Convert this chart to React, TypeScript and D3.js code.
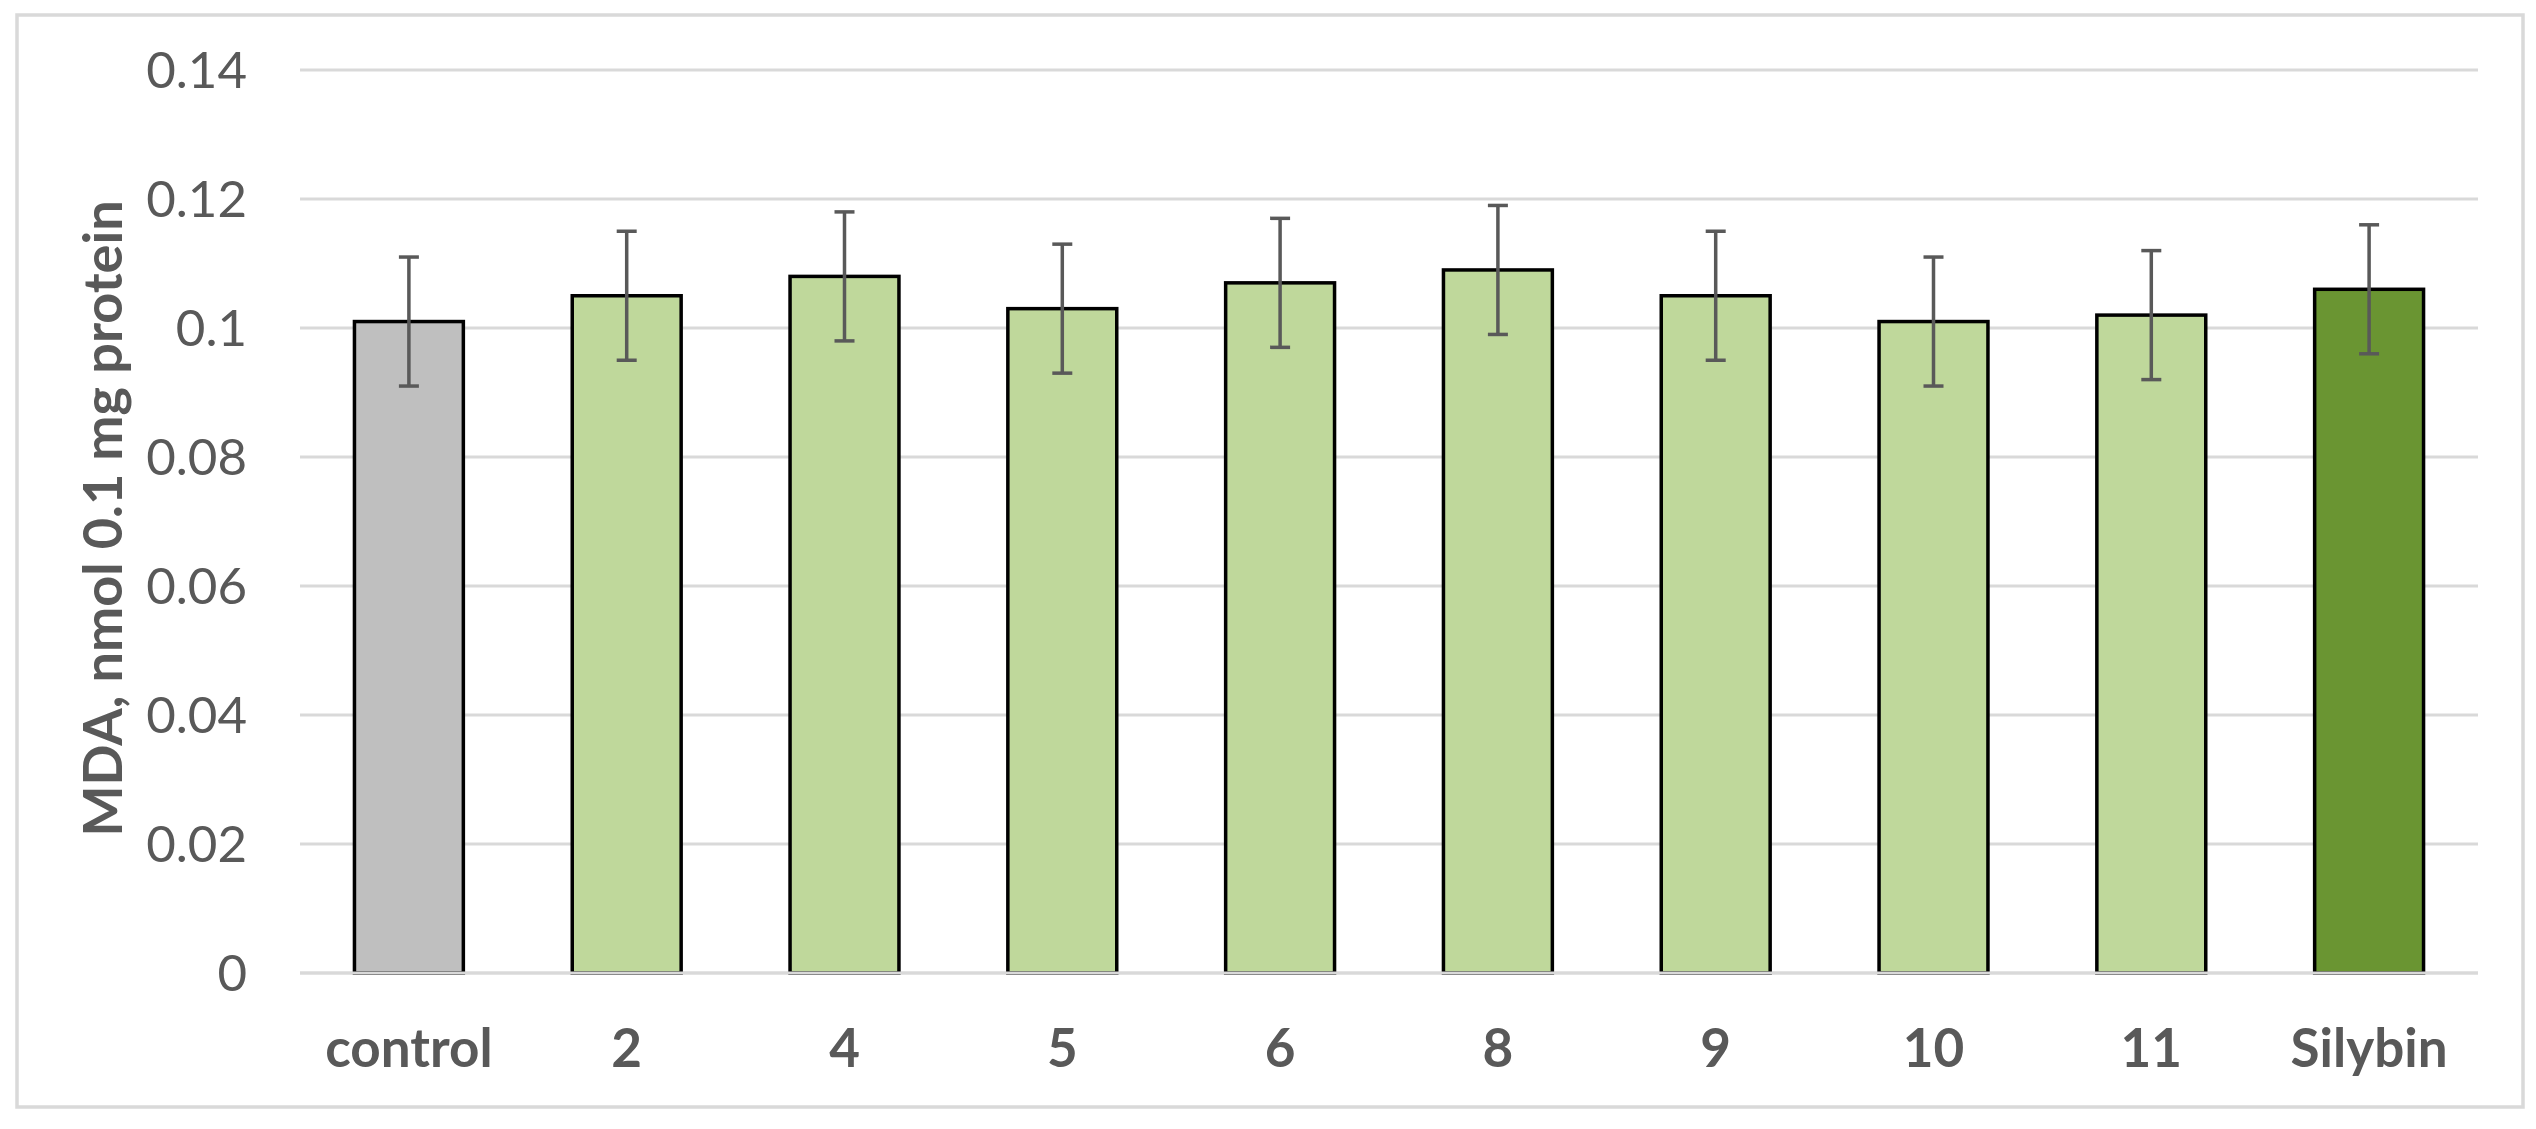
import React from "react";
import * as d3 from "d3";

const categories = ["control", "2", "4", "5", "6", "8", "9", "10", "11", "Silybin"];
const values = [0.101, 0.105, 0.108, 0.103, 0.107, 0.109, 0.105, 0.101, 0.102, 0.106];
const errors = [0.01, 0.01, 0.01, 0.01, 0.01, 0.01, 0.01, 0.01, 0.01, 0.01];
const yTicks = [0, 0.02, 0.04, 0.06, 0.08, 0.1, 0.12, 0.14];
const yTickLabels = ["0", "0.02", "0.04", "0.06", "0.08", "0.1", "0.12", "0.14"];
const barColors = ["#BFBFBF", "#BFD89B", "#BFD89B", "#BFD89B", "#BFD89B", "#BFD89B", "#BFD89B", "#BFD89B", "#BFD89B", "#6A9532"];
const yTitle = "MDA, nmol 0.1 mg protein";

const W = 2536;
const H = 1129;
const plot = { left: 300, right: 2478, top: 70, bottom: 973 };
const FONT = "Lato, 'Open Sans', sans-serif";
const TEXT = "#595959";

export default function App() {
  const x = d3
    .scaleBand<string>()
    .domain(categories)
    .range([plot.left, plot.right])
    .paddingInner(0.5)
    .paddingOuter(0.25);
  const y = d3.scaleLinear().domain([0, 0.14]).range([plot.bottom, plot.top]);
  const tickSize = 51;
  const capW = 20;

  return (
    <svg
      width={W}
      height={H}
      style={{ position: "absolute", left: 0, top: 0, background: "#fff" }}
      xmlns="http://www.w3.org/2000/svg"
    >
      <rect x={0} y={0} width={W} height={H} fill="#fff" />
      <rect x={17} y={15} width={2523 - 17} height={1107 - 15} fill="#fff" stroke="#D9D9D9" strokeWidth={3.5} />
      {yTicks.map((t, i) => (
        <g key={"g" + i}>
          <line x1={plot.left} x2={plot.right} y1={y(t)} y2={y(t)} stroke="#D9D9D9" strokeWidth={3} />
          <text
            x={247}
            y={y(t) + tickSize * 0.36}
            textAnchor="end"
            fontFamily={FONT}
            fontSize={tickSize}
            fill={TEXT}
          >
            {yTickLabels[i]}
          </text>
        </g>
      ))}
      {categories.map((c, i) => {
        const bx = x(c)!;
        const bw = x.bandwidth();
        const cx = bx + bw / 2;
        const top = y(values[i]);
        const hi = y(values[i] + errors[i]);
        const lo = y(values[i] - errors[i]);
        return (
          <g key={c}>
            <rect x={bx} y={top} width={bw} height={y(0) - top} fill={barColors[i]} stroke="#000" strokeWidth={3.5} />
            <line x1={cx} x2={cx} y1={hi} y2={lo} stroke="#595959" strokeWidth={3.5} />
            <line x1={cx - capW / 2} x2={cx + capW / 2} y1={hi} y2={hi} stroke="#595959" strokeWidth={3.5} />
            <line x1={cx - capW / 2} x2={cx + capW / 2} y1={lo} y2={lo} stroke="#595959" strokeWidth={3.5} />
            <text x={cx} y={1067} textAnchor="middle" fontFamily={FONT} fontWeight="bold" fontSize={53} fill={TEXT}>
              {c}
            </text>
          </g>
        );
      })}
      <line x1={plot.left} x2={plot.right} y1={y(0)} y2={y(0)} stroke="#D9D9D9" strokeWidth={3} />
      <text
        transform={`translate(122, ${(plot.top + plot.bottom) / 2 - 3}) rotate(-90)`}
        textAnchor="middle"
        fontFamily={FONT}
        fontWeight="bold"
        fontSize={54}
        fill={TEXT}
      >
        {yTitle}
      </text>
    </svg>
  );
}
